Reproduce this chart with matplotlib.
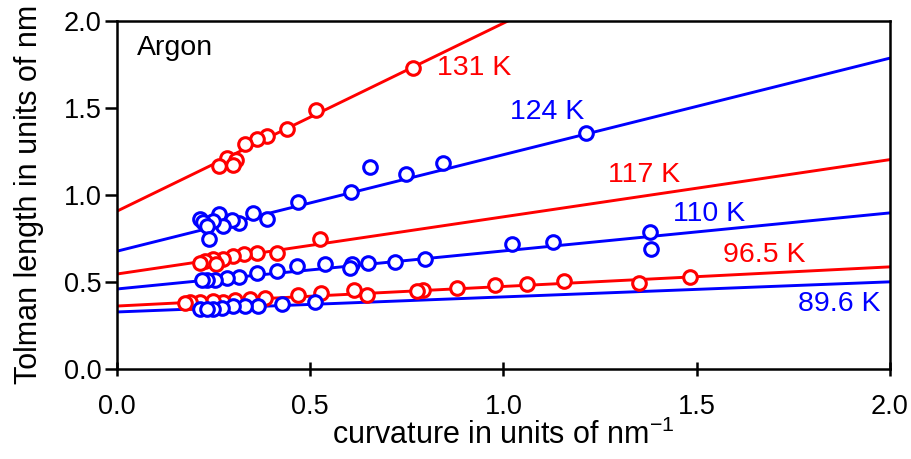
import numpy as np
import matplotlib.pyplot as plt

plt.rcParams['font.family'] = ['Liberation Sans', 'DejaVu Sans']
plt.rcParams['mathtext.fontset'] = 'custom'
plt.rcParams['mathtext.rm'] = 'Liberation Sans'

# temperature labels, line colours and fitted lines (intercept, slope)
temps = ['131 K', '124 K', '117 K', '110 K', '96.5 K', '89.6 K']
colors = ['#ff0000', '#0000ff', '#ff0000', '#0000ff', '#ff0000', '#0000ff']
intercepts = [0.905, 0.675, 0.544, 0.458, 0.360, 0.326]
slopes = [1.08, 0.5545, 0.3285, 0.2185, 0.1125, 0.0865]

# simulation points (curvature, Tolman length)
x131 = [0.766, 0.515, 0.439, 0.387, 0.363, 0.331, 0.284, 0.308, 0.301, 0.265]
y131 = [1.727, 1.486, 1.375, 1.339, 1.318, 1.293, 1.210, 1.200, 1.171, 1.162]

x124 = [1.213, 0.843, 0.748, 0.655, 0.605, 0.469, 0.351, 0.389, 0.265, 0.315,
        0.297, 0.275, 0.249, 0.216, 0.222, 0.232, 0.237]
y124 = [1.354, 1.183, 1.120, 1.156, 1.013, 0.956, 0.895, 0.861, 0.889, 0.838,
        0.853, 0.819, 0.847, 0.861, 0.842, 0.819, 0.747]

x117 = [0.525, 0.415, 0.363, 0.329, 0.301, 0.275, 0.249, 0.228, 0.215, 0.256]
y117 = [0.745, 0.663, 0.663, 0.657, 0.646, 0.632, 0.632, 0.619, 0.607, 0.604]

x110 = [1.383, 1.379, 1.129, 1.023, 0.797, 0.719, 0.650, 0.607, 0.603, 0.538,
        0.465, 0.413, 0.363, 0.316, 0.284, 0.254, 0.232, 0.219]
y110 = [0.686, 0.785, 0.730, 0.718, 0.632, 0.614, 0.607, 0.599, 0.576, 0.604,
        0.589, 0.560, 0.551, 0.528, 0.519, 0.509, 0.509, 0.509]

x965 = [1.482, 1.351, 1.157, 1.060, 0.978, 0.880, 0.792, 0.777, 0.648, 0.612,
        0.529, 0.469, 0.383, 0.344, 0.305, 0.275, 0.249, 0.215, 0.189, 0.176]
y965 = [0.525, 0.490, 0.504, 0.485, 0.481, 0.465, 0.452, 0.448, 0.424, 0.452,
        0.433, 0.424, 0.405, 0.399, 0.395, 0.386, 0.391, 0.386, 0.386, 0.377]

x896 = [0.512, 0.426, 0.366, 0.331, 0.301, 0.271, 0.249, 0.215, 0.232]
y896 = [0.386, 0.372, 0.358, 0.358, 0.361, 0.348, 0.343, 0.343, 0.343]

xs = [x131, x124, x117, x110, x965, x896]
ys = [y131, y124, y117, y110, y965, y896]

# label anchors (left edge, vertical centre)
label_x = [0.828, 1.017, 1.27, 1.438, 1.568, 1.762]
label_y = [1.727, 1.474, 1.115, 0.889, 0.653, 0.372]

fig = plt.figure(figsize=(9.11, 4.59), dpi=100)
ax = fig.add_axes([0.1284, 0.1967, 0.8485, 0.7586])

xfit = np.array([0.0, 2.0])
for i in range(len(temps)):
    ax.plot(xfit, intercepts[i] + slopes[i]*xfit, color=colors[i], lw=2.1, zorder=2)
for i in range(len(temps)):
    ax.plot(xs[i], ys[i], 'o', ms=9.8, mew=2.2, mec=colors[i], mfc='white',
            ls='none', zorder=3+i)
    ax.text(label_x[i], label_y[i], temps[i], color=colors[i], fontsize=20.5,
            ha='left', va='center')

ax.text(0.052, 1.842, 'Argon', fontsize=20.5, ha='left', va='center')

ax.set_xlim(0, 2)
ax.set_ylim(0, 2)
ax.set_xticks([0, 0.5, 1.0, 1.5, 2.0])
ax.set_yticks([0, 0.5, 1.0, 1.5, 2.0])
ax.set_xticklabels(['0.0', '0.5', '1.0', '1.5', '2.0'])
ax.set_yticklabels(['0.0', '0.5', '1.0', '1.5', '2.0'])
ax.tick_params(axis='x', direction='inout', length=10, width=1.8, labelsize=19.5, pad=13)
ax.tick_params(axis='y', direction='out', length=9, width=1.8, labelsize=19.5, pad=2)
for s in ax.spines.values():
    s.set_linewidth(1.8)

ax.set_xlabel('curvature in units of nm$^{-1}$', fontsize=22, labelpad=0)
ax.set_ylabel('Tolman length in units of nm', fontsize=22, labelpad=14)

fig.savefig('out.png', dpi=100)
